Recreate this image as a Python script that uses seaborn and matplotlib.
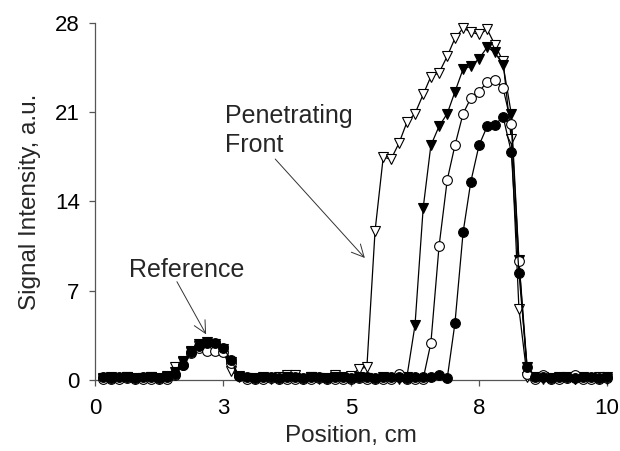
import matplotlib
matplotlib.use("Agg")
import matplotlib.pyplot as plt
import seaborn as sns
import pandas as pd

# ---- data ----
positions = [0.16, 0.31, 0.47, 0.63, 0.78, 0.94, 1.09, 1.25, 1.41, 1.56,
             1.72, 1.88, 2.03, 2.19, 2.34, 2.50, 2.66, 2.81, 2.97, 3.13,
             3.28, 3.44, 3.59, 3.75, 3.91, 4.06, 4.22, 4.38, 4.53, 4.69,
             4.84, 5.00, 5.16, 5.31, 5.47, 5.63, 5.78, 5.94, 6.09, 6.25,
             6.41, 6.56, 6.72, 6.88, 7.03, 7.19, 7.34, 7.50, 7.66, 7.81,
             7.97, 8.13, 8.28, 8.44, 8.59, 8.75, 8.91, 9.06, 9.22, 9.38,
             9.53, 9.69, 9.84, 10.00]

open_tri = [0.10, 0.15, 0.10, 0.20, 0.15, 0.10, 0.20, 0.15, 0.30, 1.00,
            1.40, 2.20, 2.70, 2.80, 2.70, 2.30, 0.70, 0.20, 0.10, 0.15,
            0.10, 0.10, 0.20, 0.40, 0.40, 0.10, 0.20, 0.10, 0.15, 0.40,
            0.20, 0.30, 0.90, 1.00, 11.7, 17.5, 17.3, 18.6, 20.2, 20.9,
            22.4, 23.8, 24.1, 25.4, 26.8, 27.6, 27.3, 27.1, 27.5, 26.3,
            25.0, 18.9, 5.60, 0.25, 0.20, 0.10, 0.15, 0.10, 0.20, 0.10,
            0.15, 0.10, 0.20, 0.10]

filled_tri = [0.15, 0.20, 0.10, 0.20, 0.10, 0.15, 0.20, 0.10, 0.25, 0.60,
              1.50, 2.30, 2.80, 3.00, 2.80, 2.40, 1.40, 0.30, 0.15, 0.10,
              0.20, 0.15, 0.10, 0.20, 0.15, 0.10, 0.20, 0.15, 0.10, 0.20,
              0.15, 0.10, 0.20, 0.15, 0.10, 0.20, 0.15, 0.10, 0.20, 4.30,
              13.5, 18.4, 19.9, 20.9, 22.6, 24.4, 24.6, 25.2, 26.1, 25.7,
              24.7, 20.9, 9.40, 1.00, 0.15, 0.20, 0.10, 0.20, 0.15, 0.10,
              0.20, 0.15, 0.10, 0.20]

open_circ = [0.05, 0.10, 0.05, 0.15, 0.10, 0.05, 0.10, 0.05, 0.10, 0.40,
             1.20, 2.10, 2.50, 2.30, 2.30, 2.20, 1.30, 0.30, 0.10, 0.05,
             0.10, 0.15, 0.05, 0.10, 0.10, 0.05, 0.10, 0.15, 0.05, 0.10,
             0.05, 0.10, 0.15, 0.05, 0.10, 0.05, 0.10, 0.50, 0.10, 0.05,
             0.10, 2.90, 10.5, 15.7, 18.4, 20.9, 22.1, 22.6, 23.4, 23.5,
             22.9, 20.1, 9.30, 0.50, 0.10, 0.40, 0.10, 0.05, 0.15, 0.40,
             0.10, 0.05, 0.10, 0.15]

filled_circ = [0.20, 0.15, 0.25, 0.20, 0.15, 0.25, 0.20, 0.15, 0.20, 0.50,
               1.20, 2.20, 2.70, 2.90, 2.90, 2.50, 1.60, 0.30, 0.20, 0.15,
               0.25, 0.20, 0.15, 0.25, 0.20, 0.15, 0.20, 0.25, 0.15, 0.20,
               0.25, 0.15, 0.20, 0.25, 0.15, 0.20, 0.25, 0.20, 0.15, 0.20,
               0.25, 0.20, 0.40, 0.15, 4.45, 11.6, 15.55, 18.4, 19.9, 20.0,
               20.65, 17.9, 8.40, 1.00, 0.25, 0.20, 0.15, 0.25, 0.20, 0.15,
               0.25, 0.20, 0.15, 0.25]

xtick_pos = [0, 2.5, 5, 7.5, 10]
xtick_labels = ["0", "3", "5", "8", "10"]
ytick_pos = [0, 7, 14, 21, 28]

# ---- style ----
sns.set_theme(style="ticks")
plt.rcParams["font.family"] = ["Liberation Sans", "DejaVu Sans"]

fig = plt.figure(figsize=(6.2, 4.51), dpi=100)
ax = fig.add_axes([95 / 620, 1 - 380 / 451, 512 / 620, 357 / 451])

series = [
    (open_tri, "v", "white", 7.5),
    (filled_tri, "v", "black", 7.5),
    (open_circ, "o", "white", 7.0),
    (filled_circ, "o", "black", 7.0),
]
for vals, mk, fc, ms in series:
    df = pd.DataFrame({"Position": positions, "Signal": vals})
    sns.lineplot(data=df, x="Position", y="Signal", ax=ax, color="black",
                 linewidth=0.9, marker=mk, markersize=ms,
                 markerfacecolor=fc, markeredgecolor="black",
                 markeredgewidth=0.8, clip_on=False, zorder=3)

ax.set_xlim(0, 10)
ax.set_ylim(0, 28)
ax.set_xticks(xtick_pos)
ax.set_xticklabels(xtick_labels)
ax.set_yticks(ytick_pos)
ax.tick_params(axis="both", labelsize=16, length=4, width=0.9,
               color="#555555", labelcolor="black")
ax.tick_params(axis="x", pad=9)
ax.tick_params(axis="y", pad=7)
for side in ["top", "right"]:
    ax.spines[side].set_visible(False)
for side in ["left", "bottom"]:
    ax.spines[side].set_color("#555555")
    ax.spines[side].set_linewidth(0.9)

ax.set_xlabel("Position, cm", fontsize=17.5, labelpad=4)
ax.set_ylabel("Signal Intensity, a.u.", fontsize=17.5, labelpad=10)

# annotations
ax.text(2.54, 20.16, "Penetrating", fontsize=18, ha="left", va="baseline")
ax.text(2.54, 17.88, "Front", fontsize=18, ha="left", va="baseline")
ax.annotate("", xy=(5.27, 9.57), xytext=(3.52, 17.33),
            arrowprops=dict(arrowstyle="->", color="#333333", lw=0.7,
                            mutation_scale=22, shrinkA=0, shrinkB=0))
ax.text(0.66, 8.08, "Reference", fontsize=18, ha="left", va="baseline")
ax.annotate("", xy=(2.17, 3.58), xytext=(1.60, 7.71),
            arrowprops=dict(arrowstyle="->", color="#333333", lw=0.7,
                            mutation_scale=22, shrinkA=0, shrinkB=0))

fig.savefig("out.png", dpi=100)
